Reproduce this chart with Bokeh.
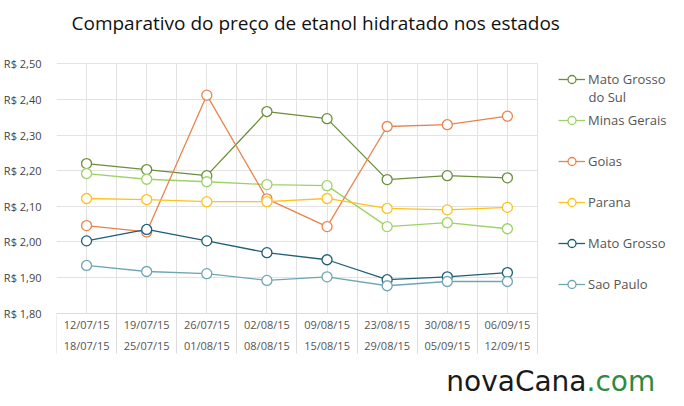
import textwrap
from bokeh.plotting import figure
from bokeh.models import Range1d, FixedTicker, Legend, LegendItem, Label
from bokeh.embed import file_html
from bokeh.resources import INLINE

categories = ["12/07/15\n18/07/15", "19/07/15\n25/07/15", "26/07/15\n01/08/15",
              "02/08/15\n08/08/15", "09/08/15\n15/08/15", "23/08/15\n29/08/15",
              "30/08/15\n05/09/15", "06/09/15\n12/09/15"]

mato_grosso_do_sul = [2.220, 2.203, 2.186, 2.366, 2.346, 2.175, 2.186, 2.180]
minas_gerais = [2.192, 2.176, 2.169, 2.161, 2.158, 2.043, 2.054, 2.037]
goias = [2.046, 2.028, 2.412, 2.121, 2.043, 2.324, 2.329, 2.353]
parana = [2.122, 2.119, 2.113, 2.113, 2.122, 2.094, 2.090, 2.097]
mato_grosso = [2.003, 2.035, 2.003, 1.970, 1.950, 1.894, 1.902, 1.914]
sao_paulo = [1.934, 1.917, 1.911, 1.892, 1.902, 1.877, 1.889, 1.889]

series_names = ["Mato Grosso do Sul", "Minas Gerais", "Goias", "Parana",
                "Mato Grosso", "Sao Paulo"]
series_values = [mato_grosso_do_sul, minas_gerais, goias, parana, mato_grosso, sao_paulo]
series_colors = ["#6b8e3b", "#9dd266", "#e8844b", "#ffc21a", "#1d5e78", "#70a5b5"]

y_ticks = [1.8, 1.9, 2.0, 2.1, 2.2, 2.3, 2.4, 2.5]
y_tick_labels = ["R$ 1,80", "R$ 1,90", "R$ 2,00", "R$ 2,10", "R$ 2,20",
                 "R$ 2,30", "R$ 2,40", "R$ 2,50"]

title_text = "Comparativo do preço de etanol hidratado nos estados"

# ---- layout geometry (pixels) ----
W, H = 684, 406
left = 54            # frame left (y labels live left of it)
data_right = 536.5   # right edge of the plotting area
data_top = 63.3      # y of top value
data_bottom = 312.7  # y of bottom value

n = len(categories)
xs = [i + 0.5 for i in range(n)]
y0, y1 = y_ticks[0], y_ticks[-1]

px_per_x = (data_right - left) / n
px_per_y = (data_bottom - data_top) / (y1 - y0)
x_end = (W - left) / px_per_x
y_start = y0 - (H - data_bottom) / px_per_y
y_end = y1 + data_top / px_per_y

p = figure(width=W, height=H, output_backend="svg", toolbar_location=None,
           x_range=Range1d(0, x_end), y_range=Range1d(y_start, y_end),
           min_border_left=left, min_border_right=0, min_border_top=0,
           min_border_bottom=0)
p.title.visible = False
p.outline_line_color = None

# grids (bounded to the data area)
p.xgrid.ticker = FixedTicker(ticks=[i * 0.5 for i in range(2 * n + 1)])
p.ygrid.ticker = FixedTicker(ticks=y_ticks)
p.xgrid.cross_bounds = (y0, y1)
p.ygrid.cross_bounds = (0, n)
for g in (p.xgrid, p.ygrid):
    g.grid_line_color = "#e3e3e3"
    g.grid_line_width = 1

# y axis
p.yaxis.ticker = FixedTicker(ticks=y_ticks)
p.yaxis.major_label_overrides = {t: l for t, l in zip(y_ticks, y_tick_labels)}
p.yaxis.axis_line_color = None
p.yaxis.major_tick_line_color = None
p.yaxis.minor_tick_line_color = None
p.yaxis.major_label_standoff = 9
p.yaxis.major_label_text_font = "Open Sans"
p.yaxis.major_label_text_font_size = "11px"
p.yaxis.major_label_text_color = "#444444"

# x axis drawn at the bottom of the data area
xa = p.xaxis[0]
xa.fixed_location = y0
xa.bounds = (0, n)
xa.ticker = FixedTicker(ticks=xs, minor_ticks=[float(i) for i in range(n + 1)])
xa.major_label_overrides = {x: c for x, c in zip(xs, categories)}
xa.axis_line_color = "#dcdcdc"
xa.major_tick_line_color = None
xa.minor_tick_line_color = "#dcdcdc"
xa.minor_tick_in = 0
xa.minor_tick_out = 40
xa.major_label_standoff = -36
xa.major_label_text_font = "Open Sans"
xa.major_label_text_font_size = "11px"
xa.major_label_text_color = "#555555"
xa.major_label_text_line_height = 1.37

items = []
extra_lines = []
for name, vals, col in zip(series_names, series_values, series_colors):
    r1 = p.line(xs, vals, line_color=col, line_width=1.3)
    r2 = p.scatter(xs, vals, size=10, marker="circle", fill_color="white",
                   line_color=col, line_width=1.3)
    lines = textwrap.wrap(name, 12)
    items.append(LegendItem(label=lines[0], renderers=[r1, r2]))
    extra_lines.append(lines[1:])

item_h, spacing = 20, 21
legend_top = 69
legend_h = len(items) * item_h + (len(items) - 1) * spacing
legend = Legend(items=items, location=(556 - left, H - legend_top - legend_h),
                orientation="vertical",
                glyph_width=27, glyph_height=item_h, label_standoff=3,
                label_text_font="Open Sans", label_text_font_size="13px",
                label_text_color="#555555", label_height=item_h, spacing=spacing,
                padding=0, margin=0, border_line_color=None,
                background_fill_alpha=0)
p.add_layout(legend, "center")

# wrapped continuation lines of legend labels
for i, more in enumerate(extra_lines):
    for j, txt in enumerate(more):
        cy = legend_top + item_h / 2 + i * (item_h + spacing) + (j + 1) * 17
        p.add_layout(Label(x=586 - left, y=H - cy, x_units="screen", y_units="screen",
                           text=txt, text_font="Open Sans", text_font_size="13px",
                           text_color="#555555", text_baseline="middle"))

p.add_layout(Label(x=15, y=H - 22, x_units="screen", y_units="screen",
                   text=title_text, text_font="Open Sans", text_font_size="19px",
                   text_color="#111111", text_baseline="middle", text_align="left"))

# logo
p.add_layout(Label(x=584 - left, y=H - 381, x_units="screen", y_units="screen",
                   text="novaCana", text_font="DejaVu Sans",
                   text_font_size="28px", text_color="#1a1a1a",
                   text_baseline="middle", text_align="right"))
p.add_layout(Label(x=584 - left, y=H - 381, x_units="screen", y_units="screen",
                   text=".com", text_font="DejaVu Sans",
                   text_font_size="28px", text_color="#2e8b3e",
                   text_baseline="middle", text_align="left"))

open("out.html", "w").write(file_html(p, INLINE))
